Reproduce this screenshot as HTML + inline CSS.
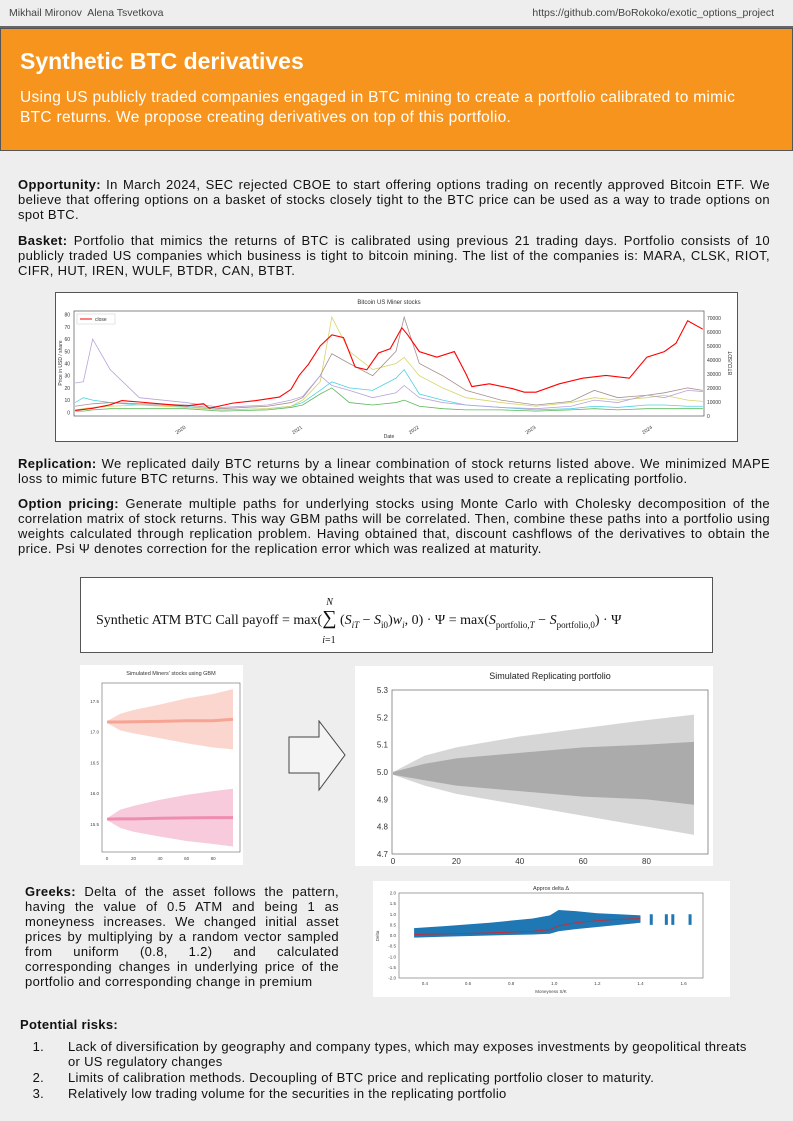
<!DOCTYPE html>
<html><head><meta charset="utf-8">
<style>
body{margin:0;width:793px;height:1121px;background:#eeeeee;font-family:"Liberation Sans",sans-serif;position:relative;overflow:hidden;color:#111}
.abs{position:absolute}
p{margin:0}
.txt{position:absolute;left:18px;width:752px;font-size:13px;letter-spacing:0.35px;line-height:15px;text-align:justify}
.box{position:absolute;background:#fff}
svg text{font-family:"Liberation Sans",sans-serif}
</style></head><body>
<div class="abs" style="left:0;top:0;width:793px;height:26px;background:#eeeeee;border-bottom:2px solid #666"></div>
<div class="abs" style="left:9px;top:7px;font-size:10.5px;color:#444">Mikhail Mironov&nbsp; Alena Tsvetkova</div>
<div class="abs" style="right:19px;top:7px;font-size:10.5px;color:#444">https://github.com/BoRokoko/exotic_options_project</div>
<div class="abs" style="left:0;top:28px;width:791px;height:121px;background:#f7941d;border:1px solid #555"></div>
<div class="abs" style="left:20px;top:48px;font-size:23px;font-weight:bold;color:#fff">Synthetic BTC derivatives</div>
<div class="abs" style="left:20px;top:88px;width:750px;font-size:15.5px;letter-spacing:0.3px;line-height:20px;color:#fff">Using US publicly traded companies engaged in BTC mining to create a portfolio calibrated to mimic BTC returns. We propose creating derivatives on top of this portfolio.</div>

<p class="txt" style="top:177px"><b>Opportunity:</b> In March 2024, SEC rejected CBOE to start offering options trading on recently approved Bitcoin ETF. We believe that offering options on a basket of stocks closely tight to the BTC price can be used as a way to trade options on spot BTC.</p>
<p class="txt" style="top:233px"><b>Basket:</b> Portfolio that mimics the returns of BTC is calibrated using previous 21 trading days. Portfolio consists of 10 publicly traded US companies which business is tight to bitcoin mining. The list of the companies is: MARA, CLSK, RIOT, CIFR, HUT, IREN, WULF, BTDR, CAN, BTBT.</p>

<div class="box" style="left:55px;top:292px;width:681px;height:148px;border:1px solid #555">
<svg id="c1" width="681" height="148"></svg></div>

<p class="txt" style="top:456px"><b>Replication:</b> We replicated daily BTC returns by a linear combination of stock returns listed above. We minimized MAPE loss to mimic future BTC returns. This way we obtained weights that was used to create a replicating portfolio.</p>
<p class="txt" style="top:496px"><b>Option pricing:</b> Generate multiple paths for underlying stocks using Monte Carlo with Cholesky decomposition of the correlation matrix of stock returns. This way GBM paths will be correlated. Then, combine these paths into a portfolio using weights calculated through replication problem. Having obtained that, discount cashflows of the derivatives to obtain the price. Psi Ψ denotes correction for the replication error which was realized at maturity.</p>

<div class="box" style="left:80px;top:577px;width:631px;height:74px;border:1px solid #555;font-family:'Liberation Serif',serif;font-size:14px">
<div class="abs" style="left:15px;top:29px;white-space:nowrap">Synthetic ATM BTC Call payoff = max(<span style="position:relative"><span style="font-size:20px">∑</span><span class="abs" style="left:4px;top:-16px;font-size:10px;font-style:italic">N</span><span class="abs" style="left:0;top:22px;font-size:10px"><i>i</i>=1</span></span> (<i>S<sub style="font-size:9px">iT</sub></i> − <i>S</i><sub style="font-size:9px">i0</sub>)<i>w<sub style="font-size:9px">i</sub></i>, 0) · Ψ = max(<i>S</i><sub style="font-size:9px">portfolio,<i>T</i></sub> − <i>S</i><sub style="font-size:9px">portfolio,0</sub>) · Ψ</div></div>

<div class="box" style="left:80px;top:665px;width:163px;height:200px"><svg id="c2" width="163" height="200"></svg></div>
<svg class="abs" style="left:288px;top:720px" width="60" height="72"><polygon points="1,17 31,17 31,1 57,35 31,70 31,53 1,53" fill="#f4f4f4" stroke="#444" stroke-width="1"/></svg>
<div class="box" style="left:355px;top:666px;width:358px;height:200px"><svg id="c3" width="358" height="200"></svg></div>

<p class="abs" style="left:25px;top:884px;width:314px;font-size:13px;letter-spacing:0.35px;line-height:15px;text-align:justify"><b>Greeks:</b> Delta of the asset follows the pattern, having the value of 0.5 ATM and being 1 as moneyness increases. We changed initial asset prices by multiplying by a random vector sampled from uniform (0.8, 1.2) and calculated corresponding changes in underlying price of the portfolio and corresponding change in premium</p>
<div class="box" style="left:373px;top:881px;width:357px;height:116px"><svg id="c4" width="357" height="116"></svg></div>

<div class="abs" style="left:20px;top:1017px;font-size:13px;letter-spacing:0.3px;font-weight:bold">Potential risks:</div>
<ol class="abs" style="left:22px;top:1039px;width:700px;margin:0;padding-left:26px;font-size:13px;letter-spacing:0.3px;line-height:15px">
<li style="padding-left:20px">Lack of diversification by geography and company types, which may exposes investments by geopolitical threats or US regulatory changes</li>
<li style="padding-left:20px;margin-top:1px">Limits of calibration methods. Decoupling of BTC price and replicating portfolio closer to maturity.</li>
<li style="padding-left:20px;margin-top:1px">Relatively low trading volume for the securities in the replicating portfolio</li>
</ol>

<script>
// ---- chart 1 data ----
const btcDates=[2019.05,2019.2,2019.35,2019.45,2019.6,2019.8,2020.0,2020.15,2020.2,2020.4,2020.6,2020.8,2020.9,2020.97,2021.05,2021.15,2021.25,2021.35,2021.45,2021.55,2021.65,2021.75,2021.85,2021.9,2022.0,2022.15,2022.3,2022.4,2022.45,2022.6,2022.8,2022.9,2023.0,2023.2,2023.4,2023.6,2023.8,2023.95,2024.1,2024.2,2024.3,2024.43];
const btcClose=[4000,5500,8000,11000,10000,8500,7200,8800,5500,9200,11000,13500,19000,29000,37000,50000,58000,56000,35000,33000,45000,48000,63000,58000,46000,42000,46000,30000,21000,23000,19500,17000,17000,23000,27000,29000,27000,42000,46000,52000,68000,62000];
const minerDates=[2019.05,2019.12,2019.2,2019.35,2019.6,2020.0,2020.3,2020.7,2020.9,2021.0,2021.15,2021.25,2021.4,2021.6,2021.8,2021.87,2022.0,2022.2,2022.4,2022.7,2023.0,2023.3,2023.5,2023.7,2023.95,2024.1,2024.3,2024.43];
const minerPurple=[24,25,60,35,12,8,4,6,10,13,30,22,18,12,16,22,12,8,6,4,3,5,10,8,14,12,18,17];
const minerBrown=[5,6,7,8,7,6,3,5,8,12,30,48,40,30,50,78,40,30,18,10,6,9,18,12,14,16,20,18];
const minerYellow=[2,3,4,5,6,4,2,3,5,10,25,78,50,35,40,45,30,20,12,8,5,8,12,10,12,14,10,9];
const minerCyan=[8,12,10,8,6,5,2,3,5,8,18,25,20,18,28,35,15,10,6,4,2,3,5,4,6,6,5,5];
const minerGreen=[1,1,2,3,3,3,1,2,4,6,15,20,8,6,8,10,5,3,2,2,1,2,3,2,3,3,3,3];
const yearTicks=[2020,2021,2022,2023,2024];
const priceTicks=[0,10,20,30,40,50,60,70,80];
const btcTicks=[0,10000,20000,30000,40000,50000,60000,70000];

const NS='http://www.w3.org/2000/svg';
function mk(svg,tag,attrs,txt){const e=document.createElementNS(NS,tag);for(const k in attrs)e.setAttribute(k,attrs[k]);if(txt!==undefined)e.textContent=txt;svg.appendChild(e);return e;}

(function(){
 const s=document.getElementById('c1');
 const L=18,R=648,T=18,B=123;
 const x=d=>L+(d-2019.04)/(2024.44-2019.04)*(R-L);
 const yL=v=>B-(v+3)/(83+3)*(B-T);
 const yR=v=>B-v/75000*(B-T);
 let e=mk(s,'text',{x:(L+R)/2,y:11,'font-size':6,'text-anchor':'middle',fill:'#333'},'Bitcoin US Miner stocks');
 
 e=mk(s,'rect',{x:L,y:T,width:R-L,height:B-T,fill:'none',stroke:'#555','stroke-width':0.7});
 
 priceTicks.forEach(v=>{const t=mk(s,'text',{x:L-4,y:yL(v)+2,'font-size':5,'text-anchor':'end',fill:'#333'},v);});
 btcTicks.forEach(v=>{const t=mk(s,'text',{x:R+3,y:yR(v)+2,'font-size':5,fill:'#333'},v);});
 yearTicks.forEach(v=>{const t=mk(s,'text',{x:x(v),y:B+12,'font-size':5,'text-anchor':'end',fill:'#333',transform:`rotate(-35 ${x(v)} ${B+12})`},v);});
 e=mk(s,'text',{x:(L+R)/2,y:145,'font-size':5,'text-anchor':'middle',fill:'#333'},'Date');
 e=mk(s,'text',{x:6,y:70,'font-size':5,'text-anchor':'middle',fill:'#333',transform:'rotate(-90 6 70)'},'Price in USD / share');
 e=mk(s,'text',{x:676,y:70,'font-size':5,'text-anchor':'middle',fill:'#333',transform:'rotate(-90 676 70)'},'BTCUSDT');
 const series=[[minerGreen,'#5cb85c'],[minerCyan,'#4fd0e0'],[minerYellow,'#d4d46a'],[minerBrown,'#a89090'],[minerPurple,'#b9a3d9']];
 series.forEach(([arr,c])=>{const p=mk(s,'polyline',{points:arr.map((v,i)=>x(minerDates[i])+','+yL(v)).join(' '),fill:'none',stroke:c,'stroke-width':0.8});});
 const p=mk(s,'polyline',{points:btcClose.map((v,i)=>x(btcDates[i])+','+yR(v)).join(' '),fill:'none',stroke:'#f00','stroke-width':1.1});
 
 e=mk(s,'rect',{x:L+3,y:T+3,width:38,height:10,fill:'#fff',stroke:'#ccc','stroke-width':0.5});
 mk(s,'line',{x1:L+6,y1:T+8,x2:L+18,y2:T+8,stroke:'#f00','stroke-width':1});
 e=mk(s,'text',{x:L+21,y:T+10,'font-size':5,fill:'#333'},'close');
})();

// ---- simulated miners ----
const simSteps=[0,10,20,40,60,80,95];
const simUpperA=[17.18,17.3,17.36,17.45,17.55,17.62,17.7];
const simLowerA=[17.15,17.03,16.98,16.9,16.82,16.75,16.72];
const simUpperB=[15.6,15.74,15.8,15.9,15.98,16.04,16.08];
const simLowerB=[15.57,15.44,15.38,15.3,15.23,15.18,15.14];
const simTicks=[15.5,16.0,16.5,17.0,17.5];
const stepTicks=[0,20,40,60,80];
(function(){
 const s=document.getElementById('c2');
 const L=22,R=160,T=18,B=187;
 const x=v=>L+5+v/95*(R-L-12);
 const y=v=>B-(v-15.05)/(17.8-15.05)*(B-T);
 let e=mk(s,'text',{x:(L+R)/2,y:10,'font-size':5.5,'text-anchor':'middle',fill:'#333'},"Simulated Miners' stocks using GBM");
 mk(s,'rect',{x:L,y:T,width:R-L,height:B-T,fill:'none',stroke:'#666','stroke-width':0.6});
 [[simUpperA,simLowerA,'#f05a3c'],[simUpperB,simLowerB,'#e0306e']].forEach(([u,l,c])=>{
  const pts=simSteps.map((v,i)=>x(v)+','+y(u[i])).concat(simSteps.slice().reverse().map((v,i)=>x(v)+','+y(l[l.length-1-i])));
  const p=mk(s,'polygon',{points:pts.join(' '),fill:c,'fill-opacity':0.25});
  const m=mk(s,'polyline',{points:simSteps.map((v,i)=>x(v)+','+y((u[i]+l[i])/2)).join(' '),fill:'none',stroke:c,'stroke-width':3,'stroke-opacity':0.4});
 });
 simTicks.forEach(v=>{const t=mk(s,'text',{x:L-3,y:y(v)+1.5,'font-size':4.5,'text-anchor':'end',fill:'#444'},v.toFixed(1));});
 stepTicks.forEach(v=>{const t=mk(s,'text',{x:x(v),y:B+8,'font-size':4.5,'text-anchor':'middle',fill:'#444'},v);});
})();

// ---- replicating portfolio ----
const repUpper=[5.0,5.06,5.09,5.13,5.16,5.19,5.21];
const repLower=[4.99,4.95,4.92,4.88,4.84,4.8,4.77];
const repCoreU=[5.0,5.03,5.05,5.07,5.09,5.1,5.11];
const repCoreL=[4.99,4.97,4.95,4.93,4.91,4.9,4.88];
const repTicks=[4.7,4.8,4.9,5.0,5.1,5.2,5.3];
(function(){
 const s=document.getElementById('c3');
 const L=37,R=353,T=24,B=188;
 const x=v=>L+1+v/95*(R-L-15);
 const y=v=>B-(v-4.7)/0.6*(B-T);
 let e=mk(s,'text',{x:(L+R)/2,y:13,'font-size':9,'text-anchor':'middle',fill:'#222'},'Simulated Replicating portfolio');
 mk(s,'rect',{x:L,y:T,width:R-L,height:B-T,fill:'none',stroke:'#666','stroke-width':0.7});
 [[repUpper,repLower,0.3],[repCoreU,repCoreL,0.45]].forEach(([u,l,o])=>{
  const pts=simSteps.map((v,i)=>x(v)+','+y(u[i])).concat(simSteps.slice().reverse().map((v,i)=>x(v)+','+y(l[l.length-1-i])));
  const p=mk(s,'polygon',{points:pts.join(' '),fill:'#777','fill-opacity':o});
 });
 repTicks.forEach(v=>{const t=mk(s,'text',{x:L-4,y:y(v)+3,'font-size':8,'text-anchor':'end',fill:'#333'},v.toFixed(1));});
 stepTicks.forEach(v=>{const t=mk(s,'text',{x:x(v),y:B+10,'font-size':8,'text-anchor':'middle',fill:'#333'},v);});
})();

// ---- delta ----
const mny=[0.35,0.5,0.7,0.9,0.98,1.02,1.1,1.2,1.3,1.4];
const deltaUp=[0.35,0.45,0.6,0.8,0.95,1.2,1.15,1.05,1.0,0.95];
const deltaLo=[-0.1,-0.05,0.0,0.05,0.08,0.2,0.3,0.4,0.5,0.6];
const deltaMean=[0.05,0.08,0.12,0.2,0.28,0.45,0.6,0.7,0.76,0.8];
const deltaTicks=[-2.0,-1.5,-1.0,-0.5,0.0,0.5,1.0,1.5,2.0];
const mnyTicks=[0.4,0.6,0.8,1.0,1.2,1.4,1.6];
(function(){
 const s=document.getElementById('c4');
 const L=26,R=330,T=12,B=97;
 const x=v=>L+(v-0.28)/(1.69-0.28)*(R-L);
 const y=v=>B-(v+2)/4*(B-T);
 let e=mk(s,'text',{x:(L+R)/2,y:9,'font-size':5.5,'text-anchor':'middle',fill:'#333'},'Approx delta Δ');
 mk(s,'rect',{x:L,y:T,width:R-L,height:B-T,fill:'none',stroke:'#666','stroke-width':0.6});
 const pts=mny.map((v,i)=>x(v)+','+y(deltaUp[i])).concat(mny.slice().reverse().map((v,i)=>x(v)+','+y(deltaLo[deltaLo.length-1-i])));
 e=mk(s,'polygon',{points:pts.join(' '),fill:'#1f77b4'});
 [1.45,1.52,1.55,1.63].forEach(v=>{const r=mk(s,'rect',{x:x(v)-1.5,y:y(1.0),width:3,height:y(0.5)-y(1.0),fill:'#1f77b4'});});
 e=mk(s,'polyline',{points:mny.map((v,i)=>x(v)+','+y(deltaMean[i])).join(' '),fill:'none',stroke:'#d62728','stroke-width':0.8});
 deltaTicks.forEach(v=>{const t=mk(s,'text',{x:L-3,y:y(v)+1.5,'font-size':4.5,'text-anchor':'end',fill:'#444'},v.toFixed(1));});
 mnyTicks.forEach(v=>{const t=mk(s,'text',{x:x(v),y:B+7,'font-size':4.5,'text-anchor':'middle',fill:'#444'},v.toFixed(1));});
 e=mk(s,'text',{x:(L+R)/2,y:112,'font-size':4.5,'text-anchor':'middle',fill:'#444'},'Moneyness S/K');
 e=mk(s,'text',{x:6,y:55,'font-size':4.5,'text-anchor':'middle',fill:'#444',transform:'rotate(-90 6 55)'},'Delta');
})();
</script>
</body></html>
